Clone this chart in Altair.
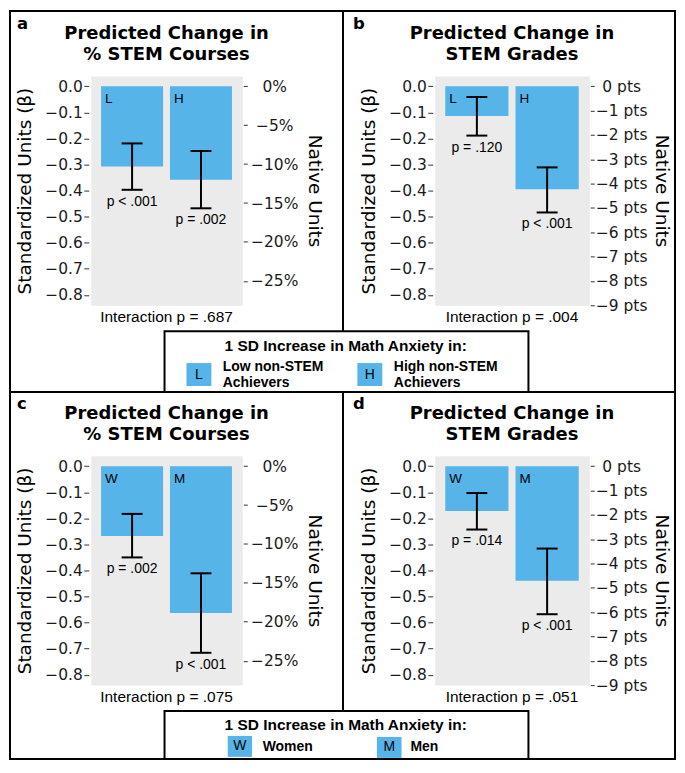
import altair as alt
import pandas as pd

BLUE = "#56B4E9"
BG = "#EBEBEB"
SANS = "Liberation Sans"
GG = "DejaVu Sans"
INK = "#1a1a1a"

# ---------------- data ----------------
groups_top = ["L", "H"]
groups_bottom = ["W", "M"]

est_a = [-0.308, -0.358]
lo_a = [-0.397, -0.468]
hi_a = [-0.219, -0.248]
p_a = ["p < .001", "p = .002"]

est_b = [-0.114, -0.395]
lo_b = [-0.189, -0.484]
hi_b = [-0.041, -0.311]
p_b = ["p = .120", "p < .001"]

est_c = [-0.268, -0.563]
lo_c = [-0.350, -0.716]
hi_c = [-0.183, -0.411]
p_c = ["p = .002", "p < .001"]

est_d = [-0.172, -0.440]
lo_d = [-0.243, -0.568]
hi_d = [-0.103, -0.316]
p_d = ["p = .014", "p < .001"]

interaction_labels = ["Interaction p = .687", "Interaction p = .004",
                      "Interaction p = .075", "Interaction p = .051"]
panel_letters = ["a", "b", "c", "d"]
title_courses = ["Predicted Change in", "% STEM Courses"]
title_grades = ["Predicted Change in", "STEM Grades"]
left_title = "Standardized Units (β)"
right_title = "Native Units"

beta_ticks = [0.0, -0.1, -0.2, -0.3, -0.4, -0.5, -0.6, -0.7, -0.8]
beta_domain = [-0.84, 0.04]
pct_ticks = [0, -5, -10, -15, -20, -25]
pct_domain = [-28.14, 1.34]      # about 33.5 % per SD
pts_ticks = [0, -1, -2, -3, -4, -5, -6, -7, -8, -9]
pts_domain = [-9.0, 0.43]        # about 10.7 pts per SD

legend_title = "1 SD Increase in Math Anxiety in:"
legend_top_keys = ["L", "H"]
legend_top_labels = [["Low non-STEM", "Achievers"], ["High non-STEM", "Achievers"]]
legend_bottom_keys = ["W", "M"]
legend_bottom_labels = ["Women", "Men"]

H = 230
one = pd.DataFrame({"k": [0]})


# ---------------- helpers ----------------
def txt(text, x, y, size, font=SANS, weight="normal", align="left",
        baseline="alphabetic", line_height=None):
    kw = dict(font=font, fontSize=size, fontWeight=weight, align=align,
              baseline=baseline, color="black")
    if line_height:
        kw["lineHeight"] = line_height
    return alt.Chart(one).mark_text(**kw).encode(
        text=alt.value(text), x=alt.value(x), y=alt.value(y))


def line(x1, x2, y1, y2, w=2):
    return alt.Chart(one).mark_rule(color="black", strokeWidth=w).encode(
        x=alt.value(x1), x2=alt.value(x2), y=alt.value(y1), y2=alt.value(y2))


def frame(x1, x2, y1, y2, w=2):
    return alt.Chart(one).mark_rect(fill="white", fillOpacity=0, stroke="black",
                                    strokeWidth=w).encode(
        x=alt.value(x1), x2=alt.value(x2), y=alt.value(y1), y2=alt.value(y2))


def square(x1, x2, y1, y2):
    return alt.Chart(one).mark_rect(color=BLUE, opacity=1).encode(
        x=alt.value(x1), x2=alt.value(x2), y=alt.value(y1), y2=alt.value(y2))


def panel(groups, est, lo, hi, pv, inter, title, letter, letter_x, width,
          nat_ticks, nat_domain, suffix, rt_pad, extra):
    df = pd.DataFrame({"g": groups, "est": est, "lo": lo, "hi": hi, "p": pv})
    base = alt.Chart(df)
    xs = alt.Scale(paddingInner=0.1, paddingOuter=0.15)
    x = alt.X("g:N", sort=groups, scale=xs, axis=None)
    ys = alt.Scale(domain=beta_domain, nice=False, zero=False)
    left_axis = alt.Axis(
        values=beta_ticks, format=".1f", title=left_title, grid=False, domain=False,
        labelFont=GG, labelFontSize=15.5, labelColor=INK, labelPadding=1.5,
        tickColor="#333333", tickSize=5, tickWidth=1, offset=2,
        titleFont=GG, titleFontSize=18.5, titleFontWeight="normal",
        titleColor="black", titlePadding=10)
    right_axis = alt.Axis(
        orient="right", values=nat_ticks, format="d",
        labelExpr="datum.label + '" + suffix + "'", title=right_title,
        grid=False, domain=False, labelFont=GG, labelFontSize=15.5,
        labelColor=INK, labelAlign="center", labelPadding=27,
        tickColor="#333333", tickSize=4, tickWidth=1, offset=1,
        titleFont=GG, titleFontSize=18.5, titleFontWeight="normal",
        titleColor="black", titlePadding=rt_pad)

    bars = base.mark_bar(color=BLUE, opacity=1).encode(
        x=x, y=alt.Y("est:Q", scale=ys, axis=left_axis), y2=alt.datum(0))
    err = base.mark_rule(color="black", strokeWidth=2).encode(
        x=x, y=alt.Y("lo:Q", scale=ys, axis=None), y2="hi:Q")
    cap_lo = base.mark_tick(color="black", thickness=2, size=21, opacity=1).encode(
        x=x, y=alt.Y("lo:Q", scale=ys, axis=None))
    cap_hi = base.mark_tick(color="black", thickness=2, size=21, opacity=1).encode(
        x=x, y=alt.Y("hi:Q", scale=ys, axis=None))
    ptxt = base.mark_text(font=SANS, fontSize=14, baseline="alphabetic", dy=16,
                          color="black").encode(
        x=x, y=alt.Y("lo:Q", scale=ys, axis=None), text="p:N")
    keys = base.mark_text(font=SANS, fontSize=13.5, align="left",
                          baseline="alphabetic", dx=4, dy=16.5,
                          color="black").encode(
        x=alt.X("g:N", sort=groups, scale=xs, axis=None, bandPosition=0),
        y=alt.YDatum(0, scale=ys, axis=None), text="g:N")
    nat = alt.Chart(pd.DataFrame({"v": nat_ticks})).mark_tick(opacity=0).encode(
        y=alt.Y("v:Q", scale=alt.Scale(domain=nat_domain, nice=False, zero=False),
                axis=right_axis))

    decor = [
        txt(title, width / 2, -37, 18, font=GG, weight="bold", align="center",
            line_height=21),
        txt(letter, letter_x, -47, 16.5, font=GG, weight="bold"),
        txt(inter, width / 2, H + 16.7, 15.5, align="center"),
    ] + extra
    return alt.layer(bars, err, cap_lo, cap_hi, ptxt, keys, nat, *decor).resolve_scale(
        y="independent").properties(width=width, height=H)


# ---------------- decorations (figure frame and legends) ----------------
top_extra = [
    frame(-81, 586, -65, 685),
    line(253, 253, -65, 256),
    line(-81, 586, 317, 317),
    frame(74, 439, 256, 317),
    txt(legend_title, 255.7, 276, 15.5, weight="bold", align="center"),
    square(96, 121, 288, 311),
    txt(legend_top_keys[0], 108.5, 299.5, 14, align="center", baseline="middle"),
    txt(legend_top_labels[0], 132.4, 296, 14, weight="bold", line_height=16),
    square(267.4, 292.4, 288, 311),
    txt(legend_top_keys[1], 279.9, 299.5, 14, align="center", baseline="middle"),
    txt(legend_top_labels[1], 304, 296, 14, weight="bold", line_height=16),
]
bottom_extra = [
    line(253, 253, -64, 256),
    frame(74, 439, 256, 304),
    txt(legend_title, 255.7, 275, 15.5, weight="bold", align="center"),
    square(137.4, 161.7, 281, 302),
    txt(legend_bottom_keys[0], 149.5, 291.5, 14, align="center", baseline="middle"),
    txt(legend_bottom_labels[0], 172.4, 296.5, 14, weight="bold"),
    square(287, 311.7, 282, 303),
    txt(legend_bottom_keys[1], 299.4, 292.5, 14, align="center", baseline="middle"),
    txt(legend_bottom_labels[1], 320.7, 296.5, 14, weight="bold"),
]

pa = panel(groups_top, est_a, lo_a, hi_a, p_a, interaction_labels[0], title_courses,
           panel_letters[0], -74, 152, pct_ticks, pct_domain, "%", 7, top_extra)
pb = panel(groups_top, est_b, lo_b, hi_b, p_b, interaction_labels[1], title_grades,
           panel_letters[1], -82, 155, pts_ticks, pts_domain, " pts", 4.5, [])
pc = panel(groups_bottom, est_c, lo_c, hi_c, p_c, interaction_labels[2], title_courses,
           panel_letters[2], -74, 152, pct_ticks, pct_domain, "%", 7, bottom_extra)
pd_ = panel(groups_bottom, est_d, lo_d, hi_d, p_d, interaction_labels[3], title_grades,
            panel_letters[3], -82, 155, pts_ticks, pts_domain, " pts", 4.5, [])

chart = alt.concat(pa, pb, pc, pd_, columns=2,
                   spacing={"row": 151, "column": 193}, bounds="flush").properties(
    padding=0, background="white"
).configure(font=SANS).configure_view(fill=BG, stroke="transparent")

chart.save("out.html", embed_options={"renderer": "svg", "actions": False})
